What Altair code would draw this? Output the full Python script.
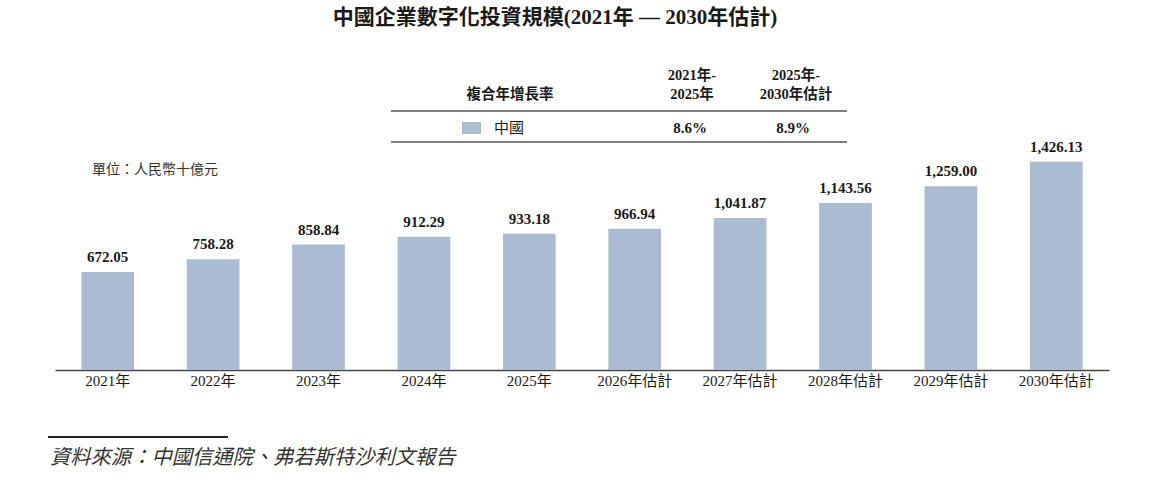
import altair as alt
import pandas as pd

# Investment scale, RMB billion
years = ["2021年", "2022年", "2023年", "2024年", "2025年",
         "2026年估計", "2027年估計", "2028年估計", "2029年估計", "2030年估計"]
values = [672.05, 758.28, 858.84, 912.29, 933.18,
          966.94, 1041.87, 1143.56, 1259.00, 1426.13]

title_text = "中國企業數字化投資規模(2021年  —  2030年估計)"
cagr_header = "複合年增長率"
cagr_periods = [["2021年-", "2025年"], ["2025年-", "2030年估計"]]
cagr_region = "中國"
cagr_values = ["8.6%", "8.9%"]
unit_text = "單位：人民幣十億元"
source_text = "資料來源：中國信通院、弗若斯特沙利文報告"

FONT = "Liberation Serif, Noto Sans CJK TC, serif"
BAR = "#abbbd1"
INK = "#1a1a1a"

df = pd.DataFrame({"year": years, "value": values})
df["label"] = [f"{v:,.2f}" for v in values]

W, H = 1054, 219

xenc = alt.X("year:N", sort=years, title=None,
             scale=alt.Scale(paddingInner=0.5, paddingOuter=0.25),
             axis=alt.Axis(labelAngle=0, labelFont=FONT, labelFontSize=15,
                           labelColor=INK, labelPadding=3, ticks=False,
                           domainColor="#444", domainWidth=1.5))
yenc = alt.Y("value:Q", scale=alt.Scale(domain=[0, 1500], nice=False),
             axis=None)

bars = alt.Chart(df).mark_bar(color=BAR).encode(x=xenc, y=yenc)
labels = alt.Chart(df).mark_text(
    font=FONT, fontSize=15, fontWeight="bold", color=INK,
    baseline="bottom", dy=-7).encode(x=xenc, y=yenc, text="label:N")


def note(text, x, y, size=14, weight="normal", align="center",
         style="normal", color=INK):
    return alt.Chart(pd.DataFrame({"t": [text]})).mark_text(
        font=FONT, fontSize=size, fontWeight=weight, align=align,
        baseline="middle", fontStyle=style, color=color
    ).encode(x=alt.value(x), y=alt.value(y), text="t:N")


def hline(x1, x2, y, width=1.5, color="#555"):
    return alt.Chart(pd.DataFrame({"a": [0]})).mark_rule(
        color=color, strokeWidth=width
    ).encode(x=alt.value(x1), x2=alt.value(x2), y=alt.value(y))


swatch = alt.Chart(pd.DataFrame({"a": [0]})).mark_rect(color=BAR).encode(
    x=alt.value(407), x2=alt.value(426), y=alt.value(-29), y2=alt.value(-17))

extras = [
    note(title_text, 500, -133, size=21, weight="bold"),
    note(cagr_header, 455, -56, size=14.5, weight="bold"),
    note(cagr_periods[0][0], 637, -75, size=14.5, weight="bold"),
    note(cagr_periods[0][1], 637, -56, size=14.5, weight="bold"),
    note(cagr_periods[1][0], 741, -75, size=14.5, weight="bold"),
    note(cagr_periods[1][1], 741, -56, size=14.5, weight="bold"),
    hline(336, 792, -40),
    hline(336, 792, -9),
    swatch,
    note(cagr_region, 454, -23, size=15),
    note(cagr_values[0], 635, -23, size=15, weight="bold"),
    note(cagr_values[1], 738, -23, size=15, weight="bold"),
    note(unit_text, 37, 19, align="left", color="#333"),
    hline(-7, 173, 286, width=2.2, color="#222"),
    note(source_text, -5, 307, size=20.3, align="left", style="italic",
         color="#333"),
]

chart = alt.layer(bars, labels, *extras).properties(
    width=W, height=H,
    background="white",
    autosize=alt.AutoSizeParams(type="none"),
    padding={"left": 55, "top": 151, "right": 41, "bottom": 108},
).configure_view(strokeWidth=0, stroke="transparent")

chart.save("out.html", embed_options={"renderer": "svg", "actions": False})
